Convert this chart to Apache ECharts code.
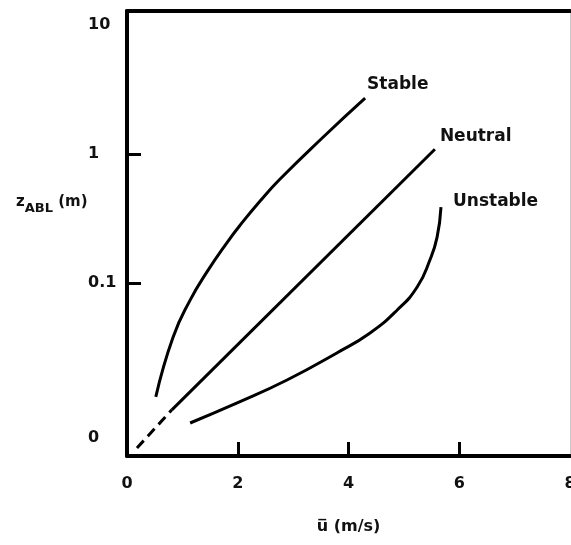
<!DOCTYPE html>
<html>
<head>
<meta charset="utf-8">
<script src="https://cdn.jsdelivr.net/npm/echarts@6/dist/echarts.min.js"></script>
<style>
  html, body { margin: 0; padding: 0; background: #ffffff; overflow: hidden; }
  #chart { width: 571px; height: 545px; }
</style>
</head>
<body>
<div id="chart"></div>
<script>
// ---- data ----
const xTickValues = [0, 2, 4, 6, 8];
const xTickLabels = ['0', '2', '4', '6', '8'];
const xTickMarks = [2, 4, 6];

const yTickValues = [10, 1, 0.1, 0.0063];
const yTickLabels = ['10', '1', '0.1', '0'];
const yTickMarks = [1, 0.1];
const yRange = [0.00456, 12.85];
const xRange = [0, 8];

const stableU = [0.52, 0.83, 1.14, 1.45, 1.81, 2.04, 2.40, 2.76, 3.54, 4.30];
const stableZ = [0.0131, 0.0378, 0.0737, 0.123, 0.207, 0.280, 0.430, 0.637, 1.349, 2.71];

const neutralU = [0.81, 5.56];
const neutralZ = [0.0104, 1.09];
const neutralDashU = [0.18, 0.81];
const neutralDashZ = [0.00526, 0.0104];

const unstableU = [1.14, 1.99, 2.89, 3.79, 4.39, 4.88, 5.24, 5.47, 5.60, 5.67];
const unstableZ = [0.00822, 0.01175, 0.0177, 0.0287, 0.0410, 0.0618, 0.0931, 0.151, 0.227, 0.388];

// ---- build ----
const L = v => Math.log10(v);
const pairs = (xs, zs) => xs.map((x, i) => [x, L(zs[i])]);
const yLabelMap = {};
yTickValues.forEach((v, i) => { yLabelMap[L(v).toFixed(4)] = yTickLabels[i]; });

const seriesFont = { fontFamily: 'DejaVu Sans', fontWeight: 'bold', fontSize: 17, color: '#111' };
const lineStyle = { color: '#000', width: 3 };

const chart = echarts.init(document.getElementById('chart'), null, { renderer: 'canvas' });
chart.setOption({
  animation: false,
  backgroundColor: '#ffffff',
  grid: { left: 127, right: 1, top: 11, bottom: 89, containLabel: false, outerBoundsMode: 'none' },
  title: {
    left: 11, top: 190,
    text: '{m|z}{s|ABL}{m| (m)}',
    textStyle: {
      rich: {
        m: { fontFamily: 'DejaVu Sans', fontWeight: 'bold', fontSize: 15, color: '#111', lineHeight: 20, verticalAlign: 'top' },
        s: { fontFamily: 'DejaVu Sans', fontWeight: 'bold', fontSize: 13, color: '#111', lineHeight: 16, verticalAlign: 'bottom' }
      }
    }
  },
  xAxis: [{
    type: 'value', min: xRange[0], max: xRange[1],
    splitLine: { show: false },
    axisLine: { show: true, onZero: false, lineStyle: { color: '#000', width: 4 } },
    axisTick: { show: true, inside: true, length: 14, customValues: xTickMarks, lineStyle: { color: '#000', width: 3 } },
    axisLabel: {
      show: true, margin: 20, customValues: xTickValues,
      formatter: v => xTickLabels[xTickValues.indexOf(v)],
      fontFamily: 'DejaVu Sans', fontWeight: 'bold', fontSize: 16, color: '#111',
      showMinLabel: true, showMaxLabel: true
    },
    name: 'u\u0305 (m/s)', nameLocation: 'middle', nameGap: 63,
    nameTextStyle: { fontFamily: 'DejaVu Sans', fontWeight: 'bold', fontSize: 16, color: '#111' }
  }, {
    type: 'value', position: 'top', min: xRange[0], max: xRange[1],
    splitLine: { show: false }, axisTick: { show: false }, axisLabel: { show: false },
    axisLine: { show: true, onZero: false, lineStyle: { color: '#000', width: 4 } }
  }],
  yAxis: [{
    type: 'value', min: L(yRange[0]), max: L(yRange[1]),
    splitLine: { show: false },
    axisLine: { show: true, onZero: false, lineStyle: { color: '#000', width: 4 } },
    axisTick: { show: true, inside: true, length: 14, customValues: yTickMarks.map(L), lineStyle: { color: '#000', width: 3 } },
    axisLabel: {
      show: true, margin: 39, align: 'left', customValues: yTickValues.map(L),
      formatter: v => yLabelMap[v.toFixed(4)] || '',
      fontFamily: 'DejaVu Sans', fontWeight: 'bold', fontSize: 16, color: '#111'
    }
  }, {
    type: 'value', position: 'right', min: L(yRange[0]), max: L(yRange[1]),
    splitLine: { show: false }, axisTick: { show: false }, axisLabel: { show: false },
    axisLine: { show: true, onZero: false, lineStyle: { color: '#c8c8c8', width: 1 } }
  }],
  series: [
    {
      name: 'Stable', type: 'line', data: pairs(stableU, stableZ), smooth: 0.5,
      showSymbol: false, symbol: 'none', lineStyle: lineStyle,
      endLabel: { show: true, formatter: '{a}', offset: [-6, -14], ...seriesFont }
    },
    {
      name: 'Neutral', type: 'line', data: pairs(neutralU, neutralZ),
      showSymbol: false, symbol: 'none', lineStyle: lineStyle,
      endLabel: { show: true, formatter: '{a}', offset: [-3, -13], ...seriesFont }
    },
    {
      name: 'NeutralDash', type: 'line', data: pairs(neutralDashU, neutralDashZ),
      showSymbol: false, symbol: 'none',
      lineStyle: { color: '#000', width: 3, type: [10, 6] }
    },
    {
      name: 'Unstable', type: 'line', data: pairs(unstableU, unstableZ), smooth: 0.5,
      showSymbol: false, symbol: 'none', lineStyle: lineStyle,
      endLabel: { show: true, formatter: '{a}', offset: [4, -5], ...seriesFont }
    }
  ]
});
</script>
</body>
</html>
